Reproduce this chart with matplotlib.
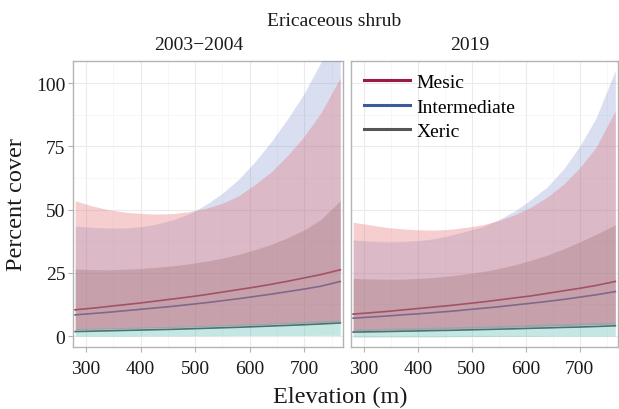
import matplotlib
matplotlib.use("Agg")
import matplotlib.pyplot as plt
from matplotlib.ticker import MultipleLocator

plt.rcParams['font.family'] = ['Liberation Serif', 'DejaVu Serif']

elev = [280, 310, 340, 370, 400, 430, 460, 490, 520, 550, 580, 610, 640, 670, 700, 730, 766]

# 2003-2004 panel
p1_mesic = [10.4, 11.0, 11.7, 12.4, 13.1, 13.9, 14.7, 15.5, 16.4, 17.4, 18.4, 19.4, 20.5, 21.7, 23.0, 24.3, 26.2]
p1_mesic_lo = [2.6, 2.75, 2.9, 3.05, 3.2, 3.35, 3.5, 3.7, 3.9, 4.1, 4.3, 4.5, 4.8, 5.0, 5.2, 5.45, 5.8]
p1_mesic_hi = [53.5, 51.5, 50.0, 49.0, 48.5, 48.2, 48.4, 49.2, 50.5, 52.5, 55.5, 60.0, 65.0, 71.5, 79.0, 88.0, 102.0]
p1_inter = [8.4, 8.9, 9.4, 10.0, 10.6, 11.2, 11.8, 12.5, 13.2, 14.0, 14.8, 15.7, 16.6, 17.6, 18.6, 19.7, 21.6]
p1_inter_lo = [2.5, 2.65, 2.8, 2.95, 3.1, 3.25, 3.4, 3.6, 3.8, 4.0, 4.2, 4.4, 4.7, 4.9, 5.1, 5.35, 5.7]
p1_inter_hi = [43.5, 43.0, 42.7, 42.7, 43.2, 44.3, 46.0, 48.4, 52.0, 56.5, 62.0, 69.0, 77.0, 86.0, 96.0, 108.0, 128.0]
p1_xeric = [1.8, 1.95, 2.1, 2.25, 2.4, 2.55, 2.7, 2.9, 3.1, 3.3, 3.5, 3.75, 4.0, 4.25, 4.5, 4.8, 5.2]
p1_xeric_lo = [2.4, 2.55, 2.7, 2.85, 3.0, 3.15, 3.3, 3.5, 3.7, 3.9, 4.1, 4.3, 4.6, 4.8, 5.0, 5.25, 5.6]
p1_xeric_hi = [26.5, 26.3, 26.2, 26.4, 26.7, 27.2, 27.8, 28.6, 29.6, 30.8, 32.3, 34.2, 36.3, 38.9, 42.0, 46.0, 53.5]
p1_band_lo = [0.0, 0.0, 0.0, 0.0, 0.05, 0.1, 0.1, 0.1, 0.15, 0.15, 0.2, 0.2, 0.2, 0.25, 0.25, 0.3, 0.3]
p1_band_hi = [3.0, 3.15, 3.3, 3.45, 3.6, 3.75, 3.9, 4.1, 4.3, 4.5, 4.7, 5.0, 5.2, 5.5, 5.8, 6.1, 6.4]

# 2019 panel
p2_mesic = [8.7, 9.2, 9.7, 10.3, 10.9, 11.5, 12.1, 12.8, 13.5, 14.3, 15.1, 15.9, 16.9, 17.9, 18.9, 20.0, 21.6]
p2_mesic_lo = [2.2, 2.3, 2.45, 2.6, 2.7, 2.85, 3.0, 3.15, 3.3, 3.45, 3.6, 3.8, 4.0, 4.2, 4.4, 4.6, 4.8]
p2_mesic_hi = [45.0, 44.0, 43.0, 42.4, 42.0, 41.9, 42.2, 43.0, 44.0, 45.7, 48.0, 51.0, 55.0, 60.0, 66.5, 74.5, 89.0]
p2_inter = [7.1, 7.5, 7.9, 8.4, 8.8, 9.3, 9.8, 10.4, 11.0, 11.6, 12.3, 13.0, 13.7, 14.5, 15.4, 16.3, 17.6]
p2_inter_lo = [2.1, 2.2, 2.35, 2.5, 2.6, 2.75, 2.9, 3.05, 3.2, 3.35, 3.5, 3.7, 3.9, 4.1, 4.3, 4.5, 4.7]
p2_inter_hi = [38.0, 37.5, 37.2, 37.3, 37.7, 38.5, 39.8, 41.5, 43.2, 46.0, 49.5, 54.0, 59.0, 66.0, 75.0, 86.0, 105.0]
p2_xeric = [1.6, 1.7, 1.8, 1.95, 2.05, 2.2, 2.3, 2.45, 2.6, 2.75, 2.9, 3.1, 3.25, 3.45, 3.6, 3.8, 4.1]
p2_xeric_lo = [2.1, 2.2, 2.35, 2.5, 2.6, 2.75, 2.9, 3.05, 3.2, 3.35, 3.5, 3.7, 3.9, 4.1, 4.3, 4.5, 4.7]
p2_xeric_hi = [22.8, 22.6, 22.5, 22.5, 22.8, 23.2, 23.8, 24.6, 25.5, 26.7, 28.2, 30.0, 32.0, 34.5, 37.2, 40.2, 44.0]
p2_band_lo = [-0.4, -0.4, -0.35, -0.35, -0.3, -0.3, -0.25, -0.2, -0.2, -0.15, -0.1, -0.1, -0.05, 0.0, 0.0, 0.0, 0.0]
p2_band_hi = [2.8, 2.95, 3.1, 3.25, 3.4, 3.55, 3.7, 3.85, 4.0, 4.2, 4.4, 4.6, 4.8, 4.95, 5.1, 5.3, 5.5]

groups = ["Mesic", "Intermediate", "Xeric"]
line_cols = ["#9B1B40", "#3B5BA0", "#555555"]
fill_cols = ["#E4696F", "#6F86C6", "#6E6E6E"]
fill_alpha = [0.32, 0.26, 0.3]
band_col = "#40B0A8"

panels = [
    ("2003\u22122004",
     [(p1_mesic, p1_mesic_lo, p1_mesic_hi),
      (p1_inter, p1_inter_lo, p1_inter_hi),
      (p1_xeric, p1_xeric_lo, p1_xeric_hi)],
     (p1_band_lo, p1_band_hi)),
    ("2019",
     [(p2_mesic, p2_mesic_lo, p2_mesic_hi),
      (p2_inter, p2_inter_lo, p2_inter_hi),
      (p2_xeric, p2_xeric_lo, p2_xeric_hi)],
     (p2_band_lo, p2_band_hi)),
]

fig = plt.figure(figsize=(6.19, 4.10), dpi=100)
W, H = 619.0, 410.0
boxes = [(73, 343), (351, 618)]
top, bot = 62, 348

axes = []
for (x0, x1), (title, series, band) in zip(boxes, panels):
    ax = fig.add_axes([x0 / W, 1 - bot / H, (x1 - x0) / W, (bot - top) / H])
    axes.append(ax)
    for (mean, lo, hi), lc, name in zip(series, line_cols, groups):
        ax.plot(elev, mean, color=lc, lw=1.2, zorder=2, label=name)
    # blue first, then grey, pink on top
    for i in [1, 2, 0]:
        mean, lo, hi = series[i]
        ax.fill_between(elev, lo, hi, color=fill_cols[i], alpha=fill_alpha[i], lw=0, zorder=3)
    ax.fill_between(elev, band[0], band[1], color=band_col, alpha=0.3, lw=0, zorder=3)

    ax.set_xlim(276, 771)
    ax.set_ylim(-4.3, 108.7)
    ax.xaxis.set_major_locator(MultipleLocator(100))
    ax.xaxis.set_minor_locator(MultipleLocator(50))
    ax.yaxis.set_major_locator(MultipleLocator(25))
    ax.yaxis.set_minor_locator(MultipleLocator(12.5))
    ax.grid(which="major", color="#EBEBEB", lw=0.8, zorder=0)
    ax.grid(which="minor", color="#F4F4F4", lw=0.5, zorder=0)
    ax.set_axisbelow(True)
    for s in ax.spines.values():
        s.set_color("#B3B3B3")
        s.set_linewidth(1.0)
    ax.tick_params(which="major", length=3.5, width=0.8, color="#B3B3B3",
                   labelsize=14, labelcolor="#1A1A1A")
    ax.tick_params(axis="x", pad=6)
    ax.tick_params(axis="y", pad=2)
    ax.tick_params(which="minor", length=0)

axes[1].tick_params(axis="y", labelleft=False, length=0)

leg = axes[1].legend(handles=[plt.Line2D([], [], color=c, lw=2.2) for c in line_cols],
                     labels=groups, loc="upper left", bbox_to_anchor=(0.0, 1.0),
                     frameon=False, fontsize=14, handlelength=2.4,
                     handletextpad=0.3, labelspacing=0.35, borderaxespad=0.25)

fig.text(334 / W, 1 - 22 / H, "Ericaceous shrub", ha="center", va="center", fontsize=14, color="#1A1A1A")
fig.text(199 / W, 1 - 45 / H, "2003\u22122004", ha="center", va="center", fontsize=14, color="#1A1A1A")
fig.text(470 / W, 1 - 45 / H, "2019", ha="center", va="center", fontsize=14, color="#1A1A1A")
fig.text(340 / W, 1 - 397 / H, "Elevation (m)", ha="center", va="center", fontsize=17.5, color="#1A1A1A")
fig.text(17 / W, 1 - 205 / H, "Percent cover", ha="center", va="center", rotation=90, fontsize=17.5, color="#1A1A1A")

fig.savefig("out.png", dpi=100)
